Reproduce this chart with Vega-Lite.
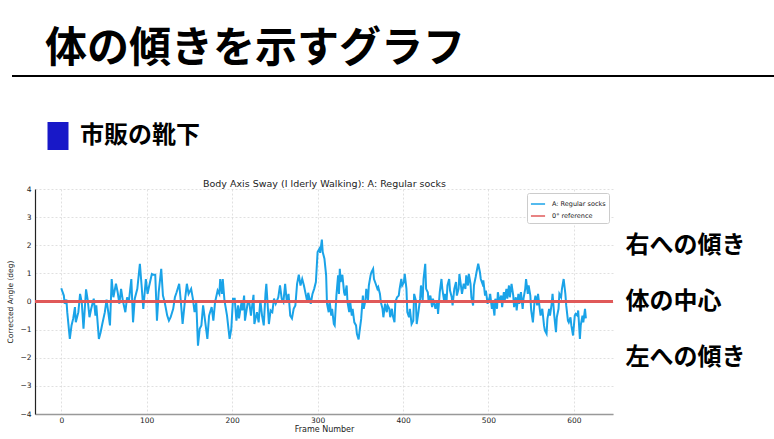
{
  "$schema": "https://vega.github.io/schema/vega-lite/v6.json",
  "width": 578,
  "height": 225,
  "autosize": {"type": "none"},
  "padding": {"left": 35, "top": 189, "right": 161, "bottom": 25},
  "background": "white",
  "title": {"text": "体の傾きを示すグラフ", "anchor": "start", "frame": "group", "dx": 10, "offset": 4, "fontSize": 42, "font": "Noto Sans CJK JP", "fontWeight": "bold", "color": "black"},
  "config": {
    "font": "DejaVu Sans",
    "view": {"stroke": null},
    "axis": {"labelFont": "DejaVu Sans", "titleFont": "DejaVu Sans", "titleFontWeight": "normal"}
  },
  "data": {"values": [
    {"frame":0,"angle":0.47},{"frame":3,"angle":0.21},{"frame":4,"angle":-0.08},{"frame":6,"angle":0.07},{"frame":7,"angle":-0.38},{"frame":10,"angle":-1.33},{"frame":12,"angle":-0.85},{"frame":14,"angle":-0.6},{"frame":16,"angle":-0.2},{"frame":17,"angle":-0.74},{"frame":20,"angle":-0.38},{"frame":22,"angle":0.27},{"frame":24,"angle":-0.03},{"frame":26,"angle":-0.97},{"frame":29,"angle":0.43},{"frame":31,"angle":0.04},{"frame":33,"angle":-0.56},{"frame":35,"angle":-0.26},{"frame":38,"angle":0.1},{"frame":40,"angle":-0.5},{"frame":41,"angle":-0.14},{"frame":44,"angle":-1.33},{"frame":46,"angle":-1.1},{"frame":48,"angle":-0.8},{"frame":51,"angle":-0.38},{"frame":53,"angle":0.07},{"frame":55,"angle":-0.38},{"frame":57,"angle":-0.85},{"frame":59,"angle":0.8},{"frame":61,"angle":0.15},{"frame":64,"angle":0.63},{"frame":66,"angle":0.33},{"frame":68,"angle":-0.08},{"frame":70,"angle":0.45},{"frame":72,"angle":0.04},{"frame":75,"angle":-0.38},{"frame":77,"angle":0.15},{"frame":79,"angle":-0.03},{"frame":82,"angle":0.8},{"frame":84,"angle":-0.74},{"frame":86,"angle":0.1},{"frame":89,"angle":0.45},{"frame":92,"angle":1.34},{"frame":94,"angle":0.57},{"frame":96,"angle":-0.26},{"frame":99,"angle":0.8},{"frame":101,"angle":0.27},{"frame":103,"angle":0.57},{"frame":106,"angle":0.98},{"frame":108,"angle":0.95},{"frame":110,"angle":0.95},{"frame":112,"angle":-0.68},{"frame":114,"angle":0.33},{"frame":117,"angle":1.16},{"frame":119,"angle":0.21},{"frame":121,"angle":-0.02},{"frame":124,"angle":-0.5},{"frame":126,"angle":-0.68},{"frame":128,"angle":-0.56},{"frame":131,"angle":-0.26},{"frame":133,"angle":0.15},{"frame":135,"angle":0.33},{"frame":138,"angle":0.63},{"frame":140,"angle":-0.02},{"frame":142,"angle":-0.8},{"frame":145,"angle":0.1},{"frame":147,"angle":0.63},{"frame":149,"angle":0.27},{"frame":152,"angle":0.45},{"frame":154,"angle":0.1},{"frame":156,"angle":-0.38},{"frame":158,"angle":-0.02},{"frame":160,"angle":-1.57},{"frame":162,"angle":-0.97},{"frame":164,"angle":-0.85},{"frame":166,"angle":-0.14},{"frame":169,"angle":-0.85},{"frame":171,"angle":-1.33},{"frame":173,"angle":-0.5},{"frame":176,"angle":-0.2},{"frame":178,"angle":-0.68},{"frame":180,"angle":-0.02},{"frame":183,"angle":0.39},{"frame":185,"angle":0.27},{"frame":186,"angle":0.8},{"frame":188,"angle":0.27},{"frame":189,"angle":0.8},{"frame":191,"angle":0.04},{"frame":194,"angle":-0.5},{"frame":197,"angle":-1.33},{"frame":199,"angle":-0.97},{"frame":201,"angle":0.1},{"frame":203,"angle":0.1},{"frame":205,"angle":-0.68},{"frame":207,"angle":-0.14},{"frame":208,"angle":-0.6},{"frame":211,"angle":-0.02},{"frame":212,"angle":-0.32},{"frame":214,"angle":0.21},{"frame":215,"angle":-0.68},{"frame":218,"angle":-0.08},{"frame":220,"angle":-0.02},{"frame":222,"angle":-0.5},{"frame":225,"angle":0.24},{"frame":226,"angle":-0.8},{"frame":229,"angle":-0.38},{"frame":231,"angle":-0.74},{"frame":233,"angle":0.04},{"frame":235,"angle":-0.5},{"frame":237,"angle":-0.85},{"frame":239,"angle":0.27},{"frame":240,"angle":0.63},{"frame":243,"angle":-0.8},{"frame":245,"angle":-0.32},{"frame":247,"angle":-0.38},{"frame":249,"angle":0.1},{"frame":251,"angle":-0.08},{"frame":254,"angle":0.15},{"frame":256,"angle":0.57},{"frame":258,"angle":0.1},{"frame":260,"angle":-0.02},{"frame":262,"angle":0.63},{"frame":264,"angle":-0.02},{"frame":266,"angle":0.27},{"frame":268,"angle":-0.5},{"frame":270,"angle":-0.6},{"frame":272,"angle":-0.26},{"frame":274,"angle":-0.14},{"frame":276,"angle":0.63},{"frame":278,"angle":0.95},{"frame":280,"angle":0.57},{"frame":282,"angle":0.8},{"frame":284,"angle":0.57},{"frame":286,"angle":0.27},{"frame":288,"angle":-0.02},{"frame":289,"angle":0.31},{"frame":292,"angle":-0.08},{"frame":294,"angle":0.27},{"frame":296,"angle":0.45},{"frame":298,"angle":0.69},{"frame":300,"angle":1.76},{"frame":302,"angle":1.87},{"frame":303,"angle":1.73},{"frame":305,"angle":2.2},{"frame":306,"angle":1.76},{"frame":308,"angle":1.52},{"frame":310,"angle":0.93},{"frame":311,"angle":-0.08},{"frame":313,"angle":-0.38},{"frame":314,"angle":0.04},{"frame":316,"angle":-0.5},{"frame":317,"angle":-0.26},{"frame":319,"angle":-0.8},{"frame":320,"angle":-0.85},{"frame":322,"angle":0.21},{"frame":324,"angle":0.93},{"frame":325,"angle":0.27},{"frame":326,"angle":1.16},{"frame":327,"angle":0.69},{"frame":329,"angle":0.95},{"frame":331,"angle":0.33},{"frame":332,"angle":0.21},{"frame":334,"angle":0.57},{"frame":335,"angle":-0.02},{"frame":337,"angle":-0.38},{"frame":338,"angle":0.04},{"frame":340,"angle":-0.5},{"frame":341,"angle":-0.26},{"frame":343,"angle":-0.74},{"frame":345,"angle":-0.85},{"frame":346,"angle":-1.15},{"frame":348,"angle":-1.35},{"frame":349,"angle":-1.09},{"frame":351,"angle":-0.62},{"frame":353,"angle":0.21},{"frame":354,"angle":-0.26},{"frame":356,"angle":0.04},{"frame":357,"angle":0.45},{"frame":359,"angle":0.04},{"frame":360,"angle":0.57},{"frame":362,"angle":0.93},{"frame":363,"angle":1.04},{"frame":365,"angle":1.16},{"frame":366,"angle":0.8},{"frame":368,"angle":0.63},{"frame":370,"angle":0.45},{"frame":371,"angle":0.51},{"frame":373,"angle":0.27},{"frame":374,"angle":-0.02},{"frame":376,"angle":-0.26},{"frame":377,"angle":-0.56},{"frame":379,"angle":-0.08},{"frame":381,"angle":-0.38},{"frame":382,"angle":-0.14},{"frame":384,"angle":-0.26},{"frame":385,"angle":-0.56},{"frame":387,"angle":-0.26},{"frame":388,"angle":-0.5},{"frame":390,"angle":-0.74},{"frame":391,"angle":-0.02},{"frame":393,"angle":0.15},{"frame":395,"angle":0.21},{"frame":396,"angle":0.45},{"frame":398,"angle":0.8},{"frame":399,"angle":0.57},{"frame":401,"angle":0.69},{"frame":402,"angle":0.98},{"frame":404,"angle":0.45},{"frame":405,"angle":-0.38},{"frame":407,"angle":-0.56},{"frame":408,"angle":-0.26},{"frame":410,"angle":-0.8},{"frame":412,"angle":-0.68},{"frame":413,"angle":0.27},{"frame":415,"angle":0.04},{"frame":416,"angle":-0.8},{"frame":418,"angle":-0.38},{"frame":420,"angle":0.1},{"frame":421,"angle":0.57},{"frame":423,"angle":0.04},{"frame":424,"angle":0.8},{"frame":426,"angle":1.34},{"frame":427,"angle":0.45},{"frame":429,"angle":0.33},{"frame":430,"angle":-0.02},{"frame":432,"angle":0.21},{"frame":434,"angle":-0.2},{"frame":435,"angle":0.1},{"frame":437,"angle":-0.14},{"frame":438,"angle":-0.26},{"frame":440,"angle":0.04},{"frame":441,"angle":-0.44},{"frame":443,"angle":0.33},{"frame":445,"angle":0.8},{"frame":446,"angle":0.45},{"frame":448,"angle":0.04},{"frame":449,"angle":0.27},{"frame":451,"angle":0.04},{"frame":452,"angle":0.57},{"frame":454,"angle":0.8},{"frame":455,"angle":0.39},{"frame":457,"angle":0.15},{"frame":458,"angle":-0.14},{"frame":460,"angle":0.45},{"frame":462,"angle":0.69},{"frame":463,"angle":0.21},{"frame":465,"angle":0.45},{"frame":466,"angle":0.98},{"frame":468,"angle":0.51},{"frame":469,"angle":0.27},{"frame":471,"angle":0.63},{"frame":473,"angle":0.45},{"frame":474,"angle":0.93},{"frame":476,"angle":0.57},{"frame":477,"angle":0.98},{"frame":479,"angle":0.63},{"frame":480,"angle":0.15},{"frame":482,"angle":-0.14},{"frame":483,"angle":0.57},{"frame":485,"angle":0.87},{"frame":486,"angle":1.04},{"frame":488,"angle":1.34},{"frame":490,"angle":1.04},{"frame":491,"angle":0.8},{"frame":493,"angle":0.63},{"frame":494,"angle":0.75},{"frame":496,"angle":0.21},{"frame":497,"angle":0.39},{"frame":499,"angle":-0.08},{"frame":501,"angle":0.1},{"frame":502,"angle":0.27},{"frame":504,"angle":-0.26},{"frame":505,"angle":-0.02},{"frame":507,"angle":-0.5},{"frame":508,"angle":0.1},{"frame":510,"angle":-0.26},{"frame":511,"angle":0.33},{"frame":513,"angle":-0.02},{"frame":515,"angle":0.21},{"frame":516,"angle":-0.2},{"frame":518,"angle":0.33},{"frame":519,"angle":0.04},{"frame":521,"angle":0.45},{"frame":522,"angle":0.1},{"frame":524,"angle":0.57},{"frame":525,"angle":0.15},{"frame":527,"angle":0.63},{"frame":529,"angle":0.21},{"frame":530,"angle":-0.2},{"frame":532,"angle":0.15},{"frame":533,"angle":-0.32},{"frame":535,"angle":0.27},{"frame":536,"angle":-0.08},{"frame":538,"angle":0.33},{"frame":540,"angle":-0.26},{"frame":541,"angle":0.1},{"frame":543,"angle":0.45},{"frame":544,"angle":0.8},{"frame":546,"angle":0.27},{"frame":547,"angle":0.57},{"frame":549,"angle":0.21},{"frame":550,"angle":-0.32},{"frame":552,"angle":-0.74},{"frame":554,"angle":0.04},{"frame":555,"angle":0.21},{"frame":557,"angle":-0.14},{"frame":558,"angle":0.27},{"frame":560,"angle":-0.26},{"frame":561,"angle":-0.5},{"frame":563,"angle":-0.26},{"frame":565,"angle":-0.85},{"frame":566,"angle":-1.03},{"frame":568,"angle":-1.15},{"frame":569,"angle":-0.62},{"frame":571,"angle":-0.26},{"frame":572,"angle":-0.5},{"frame":574,"angle":-0.08},{"frame":575,"angle":0.27},{"frame":577,"angle":-0.5},{"frame":579,"angle":-1.09},{"frame":580,"angle":-0.56},{"frame":582,"angle":-0.26},{"frame":583,"angle":0.27},{"frame":585,"angle":0.15},{"frame":586,"angle":0.45},{"frame":588,"angle":0.8},{"frame":590,"angle":0.27},{"frame":591,"angle":-0.14},{"frame":593,"angle":-0.68},{"frame":594,"angle":-0.74},{"frame":596,"angle":-0.56},{"frame":597,"angle":-0.85},{"frame":599,"angle":-1.21},{"frame":601,"angle":-0.5},{"frame":602,"angle":-0.44},{"frame":604,"angle":-0.5},{"frame":605,"angle":-0.32},{"frame":607,"angle":-1.33},{"frame":608,"angle":-0.85},{"frame":610,"angle":-0.5},{"frame":611,"angle":-0.74},{"frame":613,"angle":-0.26},{"frame":614,"angle":-0.6}
  ]},
  "layer": [
    {
      "mark": {"type": "line", "strokeWidth": 2, "interpolate": "linear"},
      "encoding": {
        "x": {"field": "frame", "type": "quantitative", "scale": {"domain": [-30.75, 645.75], "nice": false, "zero": false},
          "axis": {"orient": "bottom", "values": [0,100,200,300,400,500,600], "title": "Frame Number", "titleFontSize": 8, "titlePadding": 2, "titleColor": "#222", "labelFontSize": 7.5, "labelColor": "#222", "labelPadding": 2, "ticks": false, "domainColor": "#999", "domainWidth": 1.5, "grid": true, "gridColor": "#d8d8d8", "gridDash": [2, 2], "gridWidth": 0.8}},
        "y": {"field": "angle", "type": "quantitative", "scale": {"domain": [-4, 4], "nice": false},
          "axis": {"orient": "left", "values": [-4,-3,-2,-1,0,1,2,3,4], "title": "Corrected Angle (deg)", "titleFontSize": 7.5, "titlePadding": 5, "titleColor": "#222", "labelFontSize": 7.5, "labelColor": "#222", "labelPadding": 4, "ticks": false, "domainColor": "#222", "domainWidth": 1.2, "grid": true, "gridColor": "#d8d8d8", "gridDash": [2, 2], "gridWidth": 0.8}},
        "color": {"datum": "A: Regular socks", "type": "nominal",
          "scale": {"domain": ["A: Regular socks", "0° reference"], "range": ["#1aa3e8", "#e05a5a"]},
          "legend": {"orient": "top-right", "offset": 4, "title": null, "fillColor": "white", "strokeColor": "#cccccc", "padding": 3, "cornerRadius": 2, "labelFontSize": 6.5, "labelColor": "#222", "labelOffset": 6, "symbolType": "stroke", "symbolSize": 200, "symbolStrokeWidth": 1.5, "rowPadding": 0}}
      }
    },
    {
      "mark": {"type": "rule", "strokeWidth": 1.3, "stroke": "#e05a5a", "opacity": 1},
      "encoding": {
        "y": {"datum": 0, "type": "quantitative", "scale": {"domain": [-4, 4], "nice": false},
          "axis": {"orient": "right", "values": [2, 0, -2], "labelExpr": "datum.value == 2 ? '右への傾き' : (datum.value == 0 ? '体の中心' : '左への傾き')", "labelFont": "Noto Sans CJK JP", "labelFontSize": 24, "labelFontWeight": "bold", "labelColor": "black", "labelPadding": 12, "labelOverlap": false, "labelFlush": false, "labelLimit": 200, "domain": false, "ticks": false, "grid": false, "title": null}}
      }
    },
    {
      "mark": {"type": "rule", "color": "black", "strokeWidth": 1.5},
      "encoding": {
        "x": {"datum": -57.7, "type": "quantitative", "scale": {"domain": [-30.75, 645.75], "nice": false, "zero": false},
          "axis": {"orient": "top", "labels": false, "ticks": false, "domain": false, "grid": false, "title": "Body Axis Sway (I lderly Walking): A: Regular socks", "titleFontSize": 9.5, "titleFontWeight": "normal", "titleColor": "#222", "titlePadding": 1}},
        "x2": {"datum": 834},
        "y": {"datum": 8.02, "type": "quantitative", "scale": {"domain": [-4, 4], "nice": false}, "axis": null}
      }
    },
    {
      "data": {"values": [{"condition": "市販の靴下"}]},
      "mark": {"type": "square", "size": 0, "opacity": 1},
      "encoding": {
        "fill": {"field": "condition", "type": "nominal", "scale": {"range": ["#1818c8"]},
          "legend": {"orient": "none", "legendX": 9, "legendY": -67, "title": null, "padding": 0, "symbolType": "M-0.75,-1H0.75V1H-0.75Z", "symbolSize": 784, "symbolStrokeWidth": 0, "symbolOpacity": 1, "labelFont": "Noto Sans CJK JP", "labelFontSize": 24, "labelFontWeight": "bold", "labelColor": "black", "labelOffset": 8, "labelLimit": 300}}
      }
    }
  ],
  "resolve": {"scale": {"x": "independent", "y": "independent"}}
}
